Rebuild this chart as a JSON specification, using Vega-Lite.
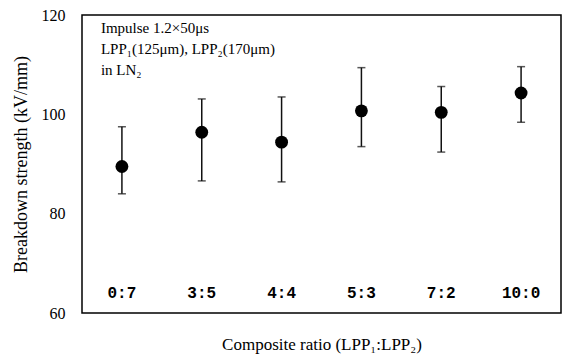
{
  "$schema": "https://vega.github.io/schema/vega-lite/v6.json",
  "autosize": "none",
  "width": 479,
  "height": 298,
  "padding": {"left": 82, "top": 15, "right": 2, "bottom": 41},
  "background": "white",
  "config": {
    "view": {"stroke": "#000", "strokeWidth": 1.5},
    "font": "Liberation Serif"
  },
  "data": {
    "values": [
      {"ratio": "0:7", "mean": 89.5, "lo": 84.0, "hi": 97.5},
      {"ratio": "3:5", "mean": 96.4, "lo": 86.6, "hi": 103.1},
      {"ratio": "4:4", "mean": 94.4, "lo": 86.4, "hi": 103.5},
      {"ratio": "5:3", "mean": 100.7, "lo": 93.5, "hi": 109.4},
      {"ratio": "7:2", "mean": 100.4, "lo": 92.4, "hi": 105.6},
      {"ratio": "10:0", "mean": 104.3, "lo": 98.4, "hi": 109.6}
    ]
  },
  "encoding": {
    "x": {
      "field": "ratio",
      "type": "nominal",
      "sort": ["0:7", "3:5", "4:4", "5:3", "7:2", "10:0"],
      "axis": {
        "labels": false,
        "ticks": false,
        "domain": false,
        "title": "Composite ratio (LPP₁:LPP₂)",
        "titleFont": "Liberation Serif",
        "titleFontSize": 17,
        "titleFontWeight": "normal",
        "titleColor": "#000",
        "titlePadding": 23
      }
    }
  },
  "layer": [
    {
      "mark": {"type": "rule", "color": "#111", "strokeWidth": 1.5},
      "encoding": {
        "y": {
          "field": "lo",
          "type": "quantitative",
          "scale": {"domain": [60, 120], "nice": false, "zero": false},
          "axis": {
            "values": [60, 80, 100, 120],
            "grid": false,
            "ticks": false,
            "domain": false,
            "labelFont": "Liberation Serif",
            "labelFontSize": 16,
            "labelColor": "#000",
            "labelPadding": 17,
            "title": "Breakdown strength (kV/mm)",
            "titleFont": "Liberation Serif",
            "titleFontSize": 18,
            "titleFontWeight": "normal",
            "titleColor": "#000",
            "titlePadding": 11
          }
        },
        "y2": {"field": "hi"}
      }
    },
    {
      "mark": {"type": "tick", "color": "#111", "size": 8, "thickness": 1.5},
      "encoding": {"y": {"field": "lo", "type": "quantitative"}}
    },
    {
      "mark": {"type": "tick", "color": "#111", "size": 8, "thickness": 1.5},
      "encoding": {"y": {"field": "hi", "type": "quantitative"}}
    },
    {
      "mark": {"type": "point", "filled": true, "color": "#000", "opacity": 1, "size": 165},
      "encoding": {"y": {"field": "mean", "type": "quantitative"}}
    },
    {
      "mark": {"type": "text", "font": "Liberation Mono", "fontWeight": "bold", "fontSize": 16, "color": "#000", "baseline": "middle"},
      "encoding": {
        "y": {"datum": 64},
        "text": {"field": "ratio"}
      }
    },
    {
      "data": {"values": [{"note": "conditions"}]},
      "mark": {
        "type": "text",
        "text": ["Impulse 1.2×50μs", "LPP₁(125μm), LPP₂(170μm)", "in LN₂"],
        "font": "Liberation Serif",
        "fontSize": 15,
        "color": "#000",
        "align": "left",
        "baseline": "top",
        "lineHeight": 21,
        "dx": -21,
        "dy": 6
      },
      "encoding": {
        "x": {"datum": "0:7"},
        "y": {"datum": 120}
      }
    }
  ]
}
